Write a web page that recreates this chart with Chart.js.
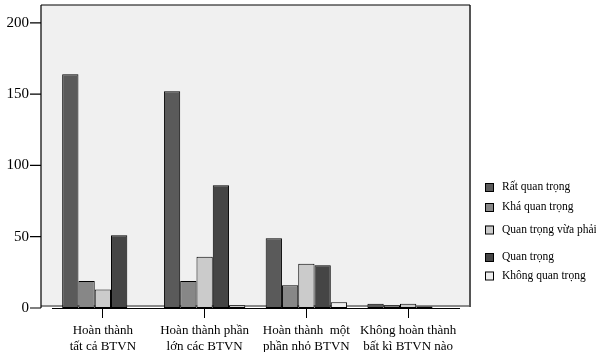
<!DOCTYPE html>
<html lang="vi">
  <head>
    <meta charset="UTF-8" />
    <script src="https://cdn.jsdelivr.net/npm/chart.js"></script>
    <style>
      body { margin: 0; background: #fff; }
      #wrap { width: 596px; height: 352px; }
    </style>
  </head>
  <body>
    <div id="wrap"><canvas id="chart"></canvas></div>
    <script>
      // categories (x axis labels, 2 lines each)
      const categories = [
        ["Hoàn thành", "tất cả BTVN"],
        ["Hoàn thành phần", "lớn các BTVN"],
        ["Hoàn thành  một", "phần nhỏ BTVN"],
        ["Không hoàn thành", "bất kì BTVN nào"]
      ];
      const seriesNames = ["Rất quan trọng", "Khá quan trọng", "Quan trọng vừa phải", "Quan trọng", "Không quan trọng"];
      const ratQuanTrong = [164, 152, 49, 3];
      const khaQuanTrong = [19, 19, 16, 2];
      const vuaPhai = [13, 36, 31, 3];
      const quanTrong = [51, 86, 30, 1];
      const khongQuanTrong = [0, 2, 4, 0];
      const yTicks = [0, 50, 100, 150, 200];

      const colors = ["#5a5a5a", "#878787", "#cbcbcb", "#454545", "#eeeeee"];
      const values = [ratQuanTrong, khaQuanTrong, vuaPhai, quanTrong, khongQuanTrong];
      // legend row centres (uneven, as in the picture)
      const legendY = [187, 207, 229.5, 257, 275.5];

      // grey plot frame, drawn a bit wider than the category axis
      const frame = {
        id: "frame",
        beforeDatasetsDraw(chart) {
          const { ctx, chartArea: a, scales } = chart;
          const L = a.left - 11, R = a.right + 11, T = a.top, B = a.bottom - 2;
          ctx.save();
          ctx.fillStyle = "#f0f0f0";
          ctx.fillRect(L, T, R - L, B - T);
          ctx.strokeStyle = "#8a8a8a";
          ctx.lineWidth = 2;
          ctx.beginPath();
          ctx.moveTo(L, B); ctx.lineTo(R, B);
          ctx.stroke();
          ctx.strokeStyle = "#555";
          ctx.beginPath();
          ctx.moveTo(R, T); ctx.lineTo(R, B + 1);
          ctx.stroke();
          ctx.strokeStyle = "#000";
          ctx.lineWidth = 1.2;
          ctx.beginPath();
          ctx.moveTo(L, T); ctx.lineTo(R, T);
          ctx.moveTo(L, T); ctx.lineTo(L, a.bottom);
          yTicks.forEach(v => {
            const y = scales.y.getPixelForValue(v);
            ctx.moveTo(L - 11, y); ctx.lineTo(L, y);
          });
          ctx.stroke();
          ctx.restore();
        },
        afterDraw(chart) {
          const { ctx } = chart;
          ctx.save();
          ctx.font = "11.5px 'Liberation Serif'";
          ctx.textBaseline = "middle";
          chart.data.datasets.forEach((ds, i) => {
            const y = legendY[i];
            ctx.fillStyle = ds.backgroundColor;
            ctx.fillRect(485, y - 4, 8, 8);
            ctx.strokeStyle = "#000";
            ctx.lineWidth = 1;
            ctx.strokeRect(485.5, y - 3.5, 8, 8);
            ctx.fillStyle = "#000";
            ctx.fillText(ds.label, 502, y);
          });
          ctx.restore();
        }
      };

      new Chart(document.getElementById("chart"), {
        type: "bar",
        data: {
          labels: categories,
          datasets: seriesNames.map((name, i) => ({
            label: name,
            data: values[i],
            backgroundColor: colors[i],
            borderColor: "#000",
            borderWidth: 1,
            borderSkipped: false,
            categoryPercentage: 0.8,
            barPercentage: 1
          }))
        },
        options: {
          responsive: true,
          maintainAspectRatio: false,
          animation: false,
          layout: { padding: { top: 5, right: 137, left: 0, bottom: 0 } },
          plugins: { legend: { display: false }, tooltip: { enabled: false } },
          scales: {
            x: {
              afterFit(s) { s.height = 44; s.paddingLeft = 0; s.paddingRight = 0; },
              border: { display: true, color: "#000", width: 1 },
              grid: { display: true, drawOnChartArea: false, offset: false, drawTicks: true, tickLength: 10, color: "#000" },
              ticks: { color: "#000", padding: 5, maxRotation: 0, autoSkip: false, font: { family: "Liberation Serif", size: 13, lineHeight: 1.2 } }
            },
            y: {
              min: 0,
              max: 212.5,
              afterFit(s) { s.width = 52; s.paddingTop = 0; s.paddingBottom = 0; },
              afterBuildTicks(s) { s.ticks = yTicks.map(v => ({ value: v })); },
              border: { display: false },
              grid: { display: false, drawTicks: false },
              ticks: { color: "#000", padding: 23, font: { family: "Liberation Serif", size: 15 } }
            }
          }
        },
        plugins: [frame]
      });
    </script>
  </body>
</html>
